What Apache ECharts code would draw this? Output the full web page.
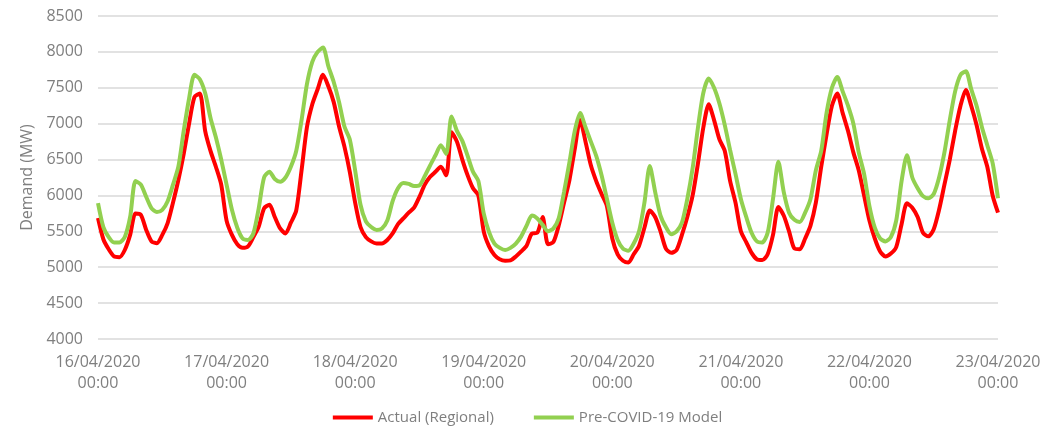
<!DOCTYPE html>
<html>
<head>
<meta charset="utf-8">
<script src="https://cdn.jsdelivr.net/npm/echarts@6/dist/echarts.min.js"></script>
<style>
html,body{margin:0;padding:0;background:#fff;}
#chart{width:1055px;height:433px;}
</style>
</head>
<body>
<div id="chart"></div>
<script>
// Hourly readings from 16/04/2020 00:00 to 23/04/2020 00:00 (169 points)
var actualRegional = [
  5685,5390,5250,5150,5140,5240,5450,5750,5730,5520,5360,5335,5450,5616,5900,6215,6580,7000,7370,7420,6900,6620,6400,6150,5650,
  5450,5320,5270,5290,5420,5565,5820,5870,5700,5540,5470,5620,5790,6350,6950,7270,7480,7680,7520,7300,6960,6680,6330,5900,
  5560,5420,5360,5330,5330,5380,5470,5600,5680,5760,5830,5980,6150,6260,6330,6400,6280,6880,6750,6500,6280,6100,6000,5500,
  5290,5170,5110,5090,5095,5150,5220,5300,5470,5480,5700,5320,5350,5580,5900,6215,6650,7050,6750,6420,6200,6020,5850,5400,
  5180,5090,5065,5180,5300,5550,5790,5700,5500,5260,5200,5240,5450,5700,6000,6450,6950,7270,7050,6780,6620,6200,5900,5500,
  5350,5200,5110,5100,5180,5450,5840,5720,5500,5260,5250,5400,5580,5900,6400,6850,7250,7420,7150,6900,6600,6350,6000,5650,
  5400,5220,5150,5190,5280,5600,5890,5830,5700,5480,5430,5530,5800,6150,6500,6900,7250,7470,7250,6980,6650,6400,6000,5760
];
var preCovidModel = [
  5894,5560,5420,5345,5345,5420,5700,6200,6150,5980,5820,5770,5800,5920,6150,6400,6900,7350,7680,7620,7427,7079,6810,6500,6150,
  5800,5550,5400,5380,5470,5820,6250,6330,6230,6190,6250,6400,6620,7050,7550,7860,8000,8060,7800,7580,7300,6960,6780,6350,
  5870,5640,5560,5520,5540,5650,5920,6100,6175,6160,6130,6140,6270,6420,6560,6700,6580,7100,6900,6760,6550,6330,6200,5750,
  5490,5330,5270,5240,5270,5330,5430,5580,5720,5680,5590,5500,5540,5680,6050,6460,6900,7150,6950,6750,6550,6280,5950,5620,
  5380,5260,5230,5330,5500,5900,6410,6050,5720,5560,5460,5500,5620,5950,6380,6950,7430,7630,7500,7280,6980,6630,6300,5950,
  5700,5480,5360,5345,5480,5950,6470,6050,5760,5660,5630,5760,5950,6350,6620,7150,7500,7650,7450,7250,7000,6600,6300,5850,
  5550,5400,5360,5420,5650,6200,6560,6250,6100,5990,5960,6020,6250,6600,7050,7450,7680,7730,7480,7250,6950,6700,6450,5960
];
var xTickLabels = ["16/04/2020\n00:00","17/04/2020\n00:00","18/04/2020\n00:00","19/04/2020\n00:00","20/04/2020\n00:00","21/04/2020\n00:00","22/04/2020\n00:00","23/04/2020\n00:00"];
var seriesNames = ["Actual (Regional)","Pre-COVID-19 Model"];
var yAxisTitle = "Demand (MW)";

function toPairs(arr){ return arr.map(function(v,i){ return [i, v]; }); }

var chart = echarts.init(document.getElementById('chart'), null, {renderer:'canvas'});
var textColor = '#7f7f7f';
var fontFam = '"Open Sans", "Liberation Sans", sans-serif';
chart.setOption({
  animation:false,
  backgroundColor:'#ffffff',
  grid:{left:98, right:57, top:16, bottom:94, containLabel:false},
  legend:{
    data:seriesNames,
    left:'center', top:405,
    itemWidth:40, itemHeight:4, itemGap:40,
    icon:'rect',
    textStyle:{color:textColor, fontSize:15, fontFamily:fontFam}
  },
  xAxis:{
    type:'value', min:0, max:168, interval:24,
    axisLine:{show:false}, axisTick:{show:false}, splitLine:{show:false},
    axisLabel:{
      color:textColor, fontSize:16, fontFamily:fontFam, lineHeight:21, margin:13,
      formatter:function(v){ return xTickLabels[Math.round(v/24)] || ''; }
    }
  },
  yAxis:{
    type:'value', min:4000, max:8500, interval:500,
    name:yAxisTitle, nameLocation:'middle', nameGap:57,
    nameTextStyle:{color:textColor, fontSize:16, fontFamily:fontFam},
    axisLine:{show:false}, axisTick:{show:false},
    axisLabel:{color:textColor, fontSize:16, fontFamily:fontFam, margin:15,
      formatter:function(v){ return String(v); }},
    splitLine:{lineStyle:{color:'#d9d9d9', width:1.5}}
  },
  series:[
    {name:seriesNames[0], type:'line', data:toPairs(actualRegional), showSymbol:false, smooth:0.25,
     itemStyle:{color:'#ff0000'}, lineStyle:{color:'#ff0000', width:4}},
    {name:seriesNames[1], type:'line', data:toPairs(preCovidModel), showSymbol:false, smooth:0.25,
     itemStyle:{color:'#92d050'}, lineStyle:{color:'#92d050', width:4}}
  ]
});
</script>
</body>
</html>
